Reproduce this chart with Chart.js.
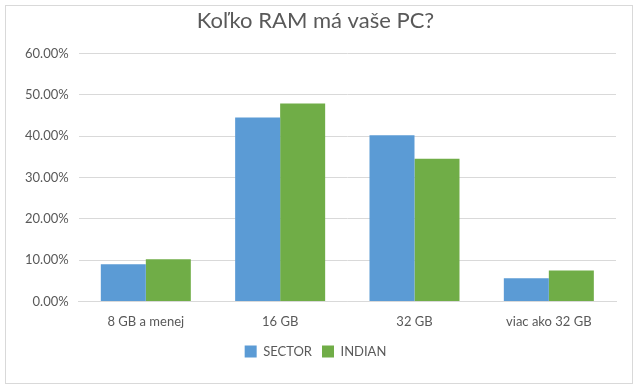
<!DOCTYPE html>
<html>
<head>
<meta charset="utf-8">
<script src="https://cdn.jsdelivr.net/npm/chart.js@4"></script>
<style>
  html, body { margin: 0; padding: 0; background: #fff; }
  #wrap { position: absolute; left: 5px; top: 5px; width: 626px; height: 377px; border: 1px solid #d9d9d9; }
  canvas { display: block; }
</style>
</head>
<body>
<div id="wrap"><canvas id="ramChart" width="626" height="377"></canvas></div>
<script>
var categories = ['8 GB a menej', '16 GB', '32 GB', 'viac ako 32 GB'];
var sectorValues = [9.0, 44.5, 40.2, 5.6];
var indianValues = [10.2, 47.9, 34.5, 7.5];
var yTicks = [0, 10, 20, 30, 40, 50, 60];

document.addEventListener("DOMContentLoaded", function() {
    var ctx = document.getElementById('ramChart').getContext('2d');
    var ramChart = new Chart(ctx, {
        type: 'bar',
        data: {
            labels: categories,
            datasets: [{
                label: 'SECTOR',
                data: sectorValues,
                backgroundColor: '#5B9BD5'
            }, {
                label: 'INDIAN',
                data: indianValues,
                backgroundColor: '#70AD47'
            }]
        },
        options: {
            responsive: false,
            animation: false,
            layout: { padding: { left: 9, right: 16, top: 0, bottom: 15 } },
            datasets: {
                bar: { categoryPercentage: 0.67, barPercentage: 1.0 }
            },
            plugins: {
                title: {
                    display: true,
                    text: 'Koľko RAM má vaše PC?',
                    color: '#595959',
                    font: { family: 'Lato', size: 22, weight: 'normal' },
                    padding: { top: 2, bottom: 19 }
                },
                legend: {
                    position: 'bottom',
                    labels: {
                        color: '#595959',
                        font: { family: 'Lato', size: 13 },
                        boxWidth: 12,
                        boxHeight: 12,
                        padding: 10
                    }
                },
                tooltip: { enabled: false }
            },
            scales: {
                x: {
                    grid: { display: false },
                    border: { color: '#d9d9d9' },
                    ticks: {
                        color: '#595959',
                        font: { family: 'Lato', size: 13 },
                        padding: 5
                    }
                },
                y: {
                    min: 0,
                    max: 60,
                    afterBuildTicks: function(axis) {
                        axis.ticks = yTicks.map(function(v) { return { value: v }; });
                    },
                    grid: { color: '#d9d9d9', drawTicks: false },
                    border: { display: false },
                    ticks: {
                        color: '#595959',
                        font: { family: 'Lato', size: 13 },
                        padding: 10,
                        callback: function(v) { return v.toFixed(2) + '%'; }
                    }
                }
            }
        }
    });
});
</script>
</body>
</html>
